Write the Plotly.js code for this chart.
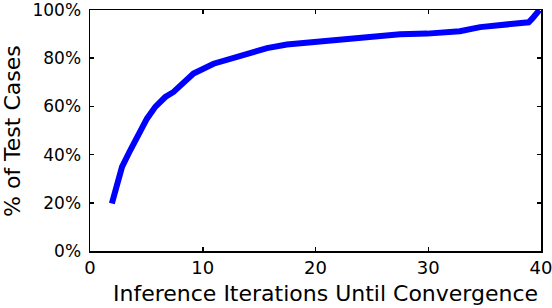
<!DOCTYPE html>
<html>
<head>
<meta charset="utf-8">
<script src="https://cdn.plot.ly/plotly-3.0.1.min.js"></script>
<style>html,body{margin:0;padding:0;background:#fff;}#chart{width:552px;height:308px;}</style>
</head>
<body>
<div id="chart"></div>
<script>
const iterations = [1.94, 2.39, 2.84, 3.57, 4.31, 5.05, 5.79, 6.68, 7.41, 8.0, 9.18, 10.96, 12.44, 13.92, 15.7, 17.46, 19.8, 21.6, 24.6, 27.5, 29.9, 31.05, 32.8, 34.6, 36.97, 38.9, 39.2, 39.6, 39.86];
const pctCases = [19.7, 28, 34.9, 41.8, 48.7, 54.9, 59.8, 63.9, 66, 68.7, 73.6, 77.7, 79.8, 82.1, 84.2, 85.7, 86.7, 87.1, 88.8, 89.9, 90.2, 90.4, 91.2, 92.9, 94.3, 94.9, 96.3, 99.1, 100];
const xTickVals = [0, 10, 20, 30, 40];
const xTickText = ['0', '10', '20', '30', '40'];
const yTickVals = [0, 20, 40, 60, 80, 100];
const yTickText = ['0%', '20%', '40%', '60%', '80%', '100%'];
const xTitle = "Inference Iterations Until Convergence";
const yTitle = "% of Test Cases";

const fontFam = "DejaVu Sans, Liberation Sans, Arial, sans-serif";
Plotly.newPlot('chart', [{
  x: iterations, y: pctCases, type: 'scatter', mode: 'lines',
  line: {color: '#0000ff', width: 6}, hoverinfo: 'skip'
}], {
  width: 552, height: 308,
  margin: {l: 90, r: 11, t: 10, b: 57},
  paper_bgcolor: '#fff', plot_bgcolor: '#fff',
  showlegend: false,
  xaxis: {
    range: [0, 40], tickmode: 'array', tickvals: xTickVals, ticktext: xTickText,
    ticks: 'inside', ticklen: 4, tickwidth: 1.5,
    tickcolor: '#000', showline: true, linecolor: '#000', linewidth: 1.5, mirror: 'ticks',
    showgrid: false, zeroline: false, tickfont: {family: fontFam, size: 18, color: '#000'},
    ticklabeloverflow: 'allow', ticklabelstandoff: 0
  },
  yaxis: {
    range: [0, 100], tickmode: 'array', tickvals: yTickVals, ticktext: yTickText,
    ticks: 'inside', ticklen: 4, tickwidth: 1.5,
    tickcolor: '#000', showline: true, linecolor: '#000', linewidth: 1.5, mirror: 'ticks',
    showgrid: false, zeroline: false, tickfont: {family: fontFam, size: 17, color: '#000'},
    ticklabelstandoff: 4, ticklabeloverflow: 'allow'
  },
  annotations: [
    {text: xTitle, xref: 'paper', yref: 'paper', x: 21/451, y: -57/241, xanchor: 'left', yanchor: 'bottom',
     showarrow: false, font: {family: fontFam, size: 22, color: '#000'}},
    {text: yTitle, xref: 'paper', yref: 'paper', x: -78/451, y: 120/241, xanchor: 'center', yanchor: 'middle',
     textangle: -90, showarrow: false, font: {family: fontFam, size: 22, color: '#000'}}
  ]
}, {displayModeBar: false, staticPlot: true});
</script>
</body>
</html>
